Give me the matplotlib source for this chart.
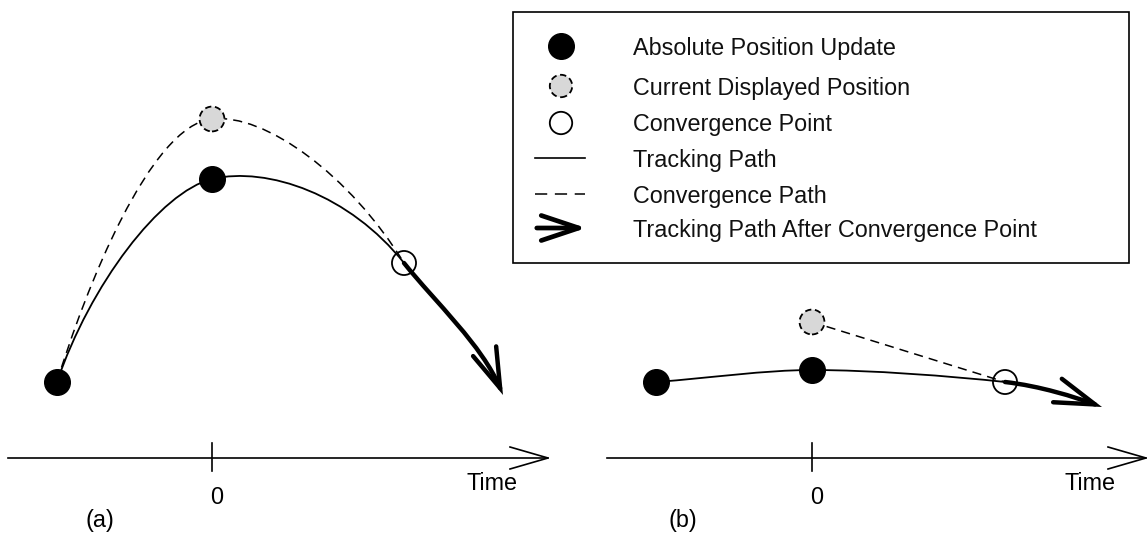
import matplotlib.pyplot as plt
import numpy as np
from matplotlib.path import Path
from matplotlib.patches import PathPatch, FancyArrowPatch, Rectangle

# diagram coordinates (pixel-like units, y grows downward)
# panel (a)
a_abs_x = [57, 212]
a_abs_y = [382, 179]
a_cur = (212, 119)
a_conv = (404, 263)
a_track = [(57, 382), (90, 285), (160, 192), (212, 179),
           (268, 166), (350, 195), (404, 263)]
a_after = [(404, 263), (436, 303), (482, 345), (503, 395)]
a_dash = [(57, 382), (85, 290), (150, 125), (212, 119),
          (265, 113), (350, 175), (404, 263)]

# panel (b)
b_abs_x = [656, 812]
b_abs_y = [382, 370]
b_cur = (812, 322)
b_conv = (1005, 382)
b_track = [(656, 382), (710, 378), (765, 370), (812, 370),
           (870, 370), (950, 376), (1005, 382)]
b_after = [(1005, 382), (1040, 386), (1075, 397), (1102, 407)]
b_dash = [(812, 322), (1005, 382)]

# time axes
axis_y = 458
axis_a = (8, 548)
axis_b = (607, 1146)
zero_a = 212
zero_b = 812
panel_labels = ["(a)", "(b)"]

legend_labels = ["Absolute Position Update", "Current Displayed Position",
                 "Convergence Point", "Tracking Path", "Convergence Path",
                 "Tracking Path After Convergence Point"]
legend_rows = [46, 86, 123, 158, 194, 228]

FONT = "Liberation Sans"
FS = 16.8
GRAY = "#d8d8d8"
DASH = (0, (6, 4))
CIRC_DASH = (0, (3.5, 2))


def bezier(ax, pts, **kw):
    codes = [Path.MOVETO] + [Path.CURVE4] * (len(pts) - 1)
    ax.add_patch(PathPatch(Path(pts, codes), fill=False, **kw))


def arrow_curve(ax, pts):
    codes = [Path.MOVETO] + [Path.CURVE4] * (len(pts) - 1)
    ax.add_patch(FancyArrowPatch(path=Path(pts, codes),
                                 arrowstyle="->,head_length=1.6,head_width=0.5",
                                 mutation_scale=18, lw=3.2, color="k",
                                 capstyle="round", joinstyle="miter"))


def points(ax, xs, ys, cur, conv):
    ax.scatter(xs, ys, s=340, c="k", zorder=5)
    ax.scatter([cur[0]], [cur[1]], s=320, facecolors=GRAY, edgecolors="k",
               linewidths=1.3, linestyles=CIRC_DASH, zorder=5)
    ax.scatter([conv[0]], [conv[1]], s=300, facecolors="none", edgecolors="k",
               linewidths=1.3, zorder=6)


def time_axis(ax, x0, x1, zero, label):
    ax.plot([x0, x1], [axis_y, axis_y], color="k", lw=1.2)
    ax.plot([x1 - 38, x1, x1 - 38], [axis_y - 11, axis_y, axis_y + 11],
            color="k", lw=1.2)
    ax.plot([zero, zero], [axis_y - 15, axis_y + 13], color="k", lw=1.2)
    ax.text(zero + 5, axis_y + 40, "0", fontsize=FS, family=FONT,
            ha="center", va="center")
    ax.text(x1 - 56, axis_y + 26, "Time", fontsize=FS, family=FONT,
            ha="center", va="center")
    ax.text(zero - 112 + (0 if label == "(a)" else -17), axis_y + 63, label,
            fontsize=FS, family=FONT, ha="center", va="center")


fig = plt.figure(figsize=(11.48, 5.35), dpi=100)
ax = fig.add_axes([0, 0, 1, 1])
ax.set_xlim(0, 1148)
ax.set_ylim(535, 0)
ax.axis("off")

# panel (a)
bezier(ax, a_track, lw=1.3, color="k")
bezier(ax, a_dash, lw=1.1, color="k", linestyle=DASH)
arrow_curve(ax, a_after)
points(ax, a_abs_x, a_abs_y, a_cur, a_conv)
time_axis(ax, axis_a[0], axis_a[1], zero_a, panel_labels[0])

# panel (b)
bezier(ax, b_track, lw=1.3, color="k")
ax.plot([p[0] for p in b_dash], [p[1] for p in b_dash], color="k",
        lw=1.1, linestyle=DASH)
arrow_curve(ax, b_after)
points(ax, b_abs_x, b_abs_y, b_cur, b_conv)
time_axis(ax, axis_b[0], axis_b[1], zero_b, panel_labels[1])

# legend box
ax.add_patch(Rectangle((513, 12), 616, 251, fill=False, lw=1.2, color="k"))
mx = 561
ax.scatter([mx], [legend_rows[0]], s=340, c="k")
ax.scatter([mx], [legend_rows[1]], s=260, facecolors=GRAY, edgecolors="k",
           linewidths=1.3, linestyles=CIRC_DASH)
ax.scatter([mx], [legend_rows[2]], s=260, facecolors="none", edgecolors="k",
           linewidths=1.3)
ax.plot([535, 585], [legend_rows[3]] * 2, color="k", lw=1.2)
ax.plot([535, 585], [legend_rows[4]] * 2, color="k", lw=1.1,
        linestyle=(0, (8, 5)))
ax.add_patch(FancyArrowPatch((534, legend_rows[5]), (589, legend_rows[5]),
                             arrowstyle="->,head_length=1.5,head_width=0.5",
                             mutation_scale=18, lw=3.4, color="k"))
for lab, y in zip(legend_labels, legend_rows):
    ax.text(633, y + 2, lab, fontsize=FS, family=FONT, ha="left",
            va="center", color="#111111")

fig.savefig("out.png", dpi=100)
